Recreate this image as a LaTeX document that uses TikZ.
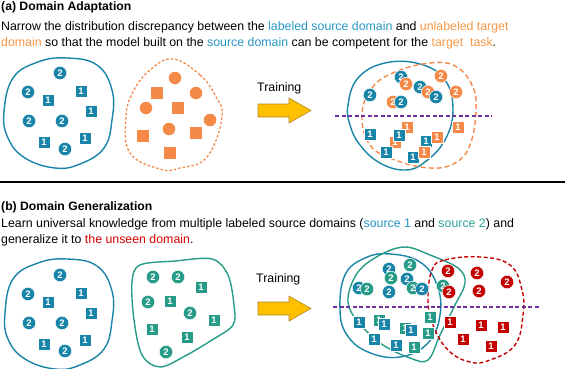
\documentclass[tikz,border=0pt]{standalone}
\usepackage{fontspec}
\setmainfont{Liberation Sans}
\definecolor{cB}{RGB}{24,133,168}
\definecolor{cO}{RGB}{245,138,72}
\definecolor{cT}{RGB}{38,155,135}
\definecolor{cR}{RGB}{196,0,0}
\definecolor{cP}{RGB}{112,48,160}
\definecolor{cY}{RGB}{255,192,0}
\definecolor{cYd}{RGB}{175,135,40}
\definecolor{tB}{RGB}{40,150,195}
\definecolor{tO}{RGB}{247,150,70}
\definecolor{tT}{RGB}{40,165,150}
\definecolor{tR}{RGB}{215,0,0}
\begin{document}
\begin{tikzpicture}[x=1pt,y=-1pt,
  num/.style={text=white,font=\fontsize{9.5}{9.5}\selectfont\bfseries,inner sep=0pt},
  dc/.style={num,circle,fill=#1,minimum size=13.5pt,draw=white,line width=0.5pt},
  sq/.style={num,rectangle,fill=#1,minimum size=12.5pt,draw=white,line width=0.5pt},
  blob/.style={draw=#1,line width=1.4pt},
  sep/.style={draw=cP,line width=1.5pt,dash pattern=on 4pt off 2.5pt},
  txt/.style={anchor=base west,inner sep=0pt,font=\fontsize{12.35}{14}\selectfont},
  ttl/.style={anchor=base west,inner sep=0pt,font=\fontsize{12.2}{14}\selectfont\bfseries},
  arr/.style={fill=cY,draw=cYd,line width=0.6pt}]
\path[use as bounding box] (0,0) rectangle (565,368);

% ---------- (a) texts
\node[ttl] (ta) at (1,10) {(a) Domain Adaptation};
\node[txt] (ta1) at (1,30.5) {Narrow the distribution discrepancy between the \textcolor{tB}{labeled source domain} and \textcolor{tO}{unlabeled target}};
\node[txt] (ta2) at (1,46.5) {\textcolor{tO}{domain} so that the model built on the \textcolor{tB}{source domain} can be competent for the \textcolor{tO}{target~~task}.};

% ---------- (a) left source blob
\draw[blob=cB] plot[smooth cycle,tension=0.7] coordinates {(4,112) (13,78) (38,62) (67,58) (97,65) (112,90) (112,120) (104,148) (80,164) (55,168) (25,158) (8,138)};
\foreach \x/\y [count=\i] in {60/73,28/92,29/121,62/121,65/149}
  \node[dc=cB] (aLc\i) at (\x,\y) {2};
\foreach \x/\y [count=\i] in {48/100,81/91,91/111,44/142,85/138}
  \node[sq=cB] (aLs\i) at (\x,\y) {1};

% ---------- (a) target blob
\draw[blob=cO,line width=1.3pt,dash pattern=on 2.5pt off 2pt] plot[smooth cycle,tension=0.7] coordinates {(173,59) (200,75) (215,95) (222,117) (207,157) (180,168) (160,169) (130,153) (126,117) (133,92) (150,70)};
\foreach \x/\y [count=\i] in {175/78,196/93,146/108,210/120,169/129}
  \node[circle,fill=cO,minimum size=12.5pt,inner sep=0pt] (aTc\i) at (\x,\y) {};
\foreach \x/\y [count=\i] in {157/93,178/108,143/136,196/133,170/153}
  \node[rectangle,fill=cO,minimum size=12pt,inner sep=0pt] (aTs\i) at (\x,\y) {};

% ---------- (a) training arrow
\node[txt] (trA) at (257,91) {Training};
\draw[arr] (258,104) -- (289,104) -- (289,98) -- (311,110.5) -- (289,123) -- (289,117) -- (258,117) -- cycle;

% ---------- (a) merged
\draw[blob=cB] plot[smooth cycle,tension=0.7] coordinates {(348,105) (358,78) (385,63) (420,64) (445,80) (453,110) (445,140) (425,162) (405,170) (380,163) (360,145) (350,125)};
\draw[blob=cO,dash pattern=on 5pt off 3pt] plot[smooth cycle,tension=0.7] coordinates {(362,115) (372,88) (395,72) (430,63) (455,66) (472,85) (476,110) (470,145) (455,163) (430,168) (395,160) (370,145)};
\coordinate (pa1) at (335,116);
\coordinate (pa2) at (492,116);
\draw[sep] (pa1) -- (pa2);
\foreach \c/\x/\y [count=\i] in {cB/401/77,cO/406/84,cB/370/95,cO/441/76,cO/456/92,cB/420/87,cO/428/92,cB/436/97,cO/393/102,cB/401/102}
  \node[dc=\c] (aRc\i) at (\x,\y) {2};
\foreach \c/\x/\y [count=\i] in {cO/407/127,cO/395/142,cB/399/135,cB/370/134,cB/386/152,cB/426/141,cO/437/137,cB/413/157,cO/424/152,cO/458/127}
  \node[sq=\c] (aRs\i) at (\x,\y) {1};

% ---------- separator
\coordinate (s1) at (0,182);
\coordinate (s2) at (565,182);
\draw[line width=2pt] (s1) -- (s2);

% ---------- (b) texts
\node[ttl] (tb) at (1,210) {(b) Domain Generalization};
\node[txt] (tb1) at (1,227) {Learn universal knowledge from multiple labeled source domains (\textcolor{tB}{source 1} and \textcolor{tT}{source 2}) and};
\node[txt] (tb2) at (1,243) {generalize it to \textcolor{tR}{the unseen domain}.};

% ---------- (b) source 1
\begin{scope}[yshift=-201pt]
\draw[blob=cB] plot[smooth cycle,tension=0.7] coordinates {(5,112) (13,78) (38,62) (67,58) (97,65) (112,90) (112,120) (104,148) (80,164) (55,168) (25,158) (8,138)};
\end{scope}
\foreach \x/\y [count=\i] in {60/275,28/294,29/323,62/323,65/351}
  \node[dc=cB] (bLc\i) at (\x,\y) {2};
\foreach \x/\y [count=\i] in {48/302,81/293,91/313,44/344,85/340}
  \node[sq=cB] (bLs\i) at (\x,\y) {1};

% ---------- (b) source 2
\draw[blob=cT] plot[smooth cycle,tension=0.55] coordinates {(132,282) (140,265) (175,261) (212,259) (228,275) (234,305) (233,325) (212,340) (185,356) (160,367) (142,355) (134,320)};
\foreach \x/\y [count=\i] in {153/277,178/277,148/302,190/313,166/352}
  \node[dc=cT] (bMc\i) at (\x,\y) {2};
\foreach \x/\y [count=\i] in {201/287,170/301,214/320,152/329,187/337}
  \node[sq=cT] (bMs\i) at (\x,\y) {1};

% ---------- (b) training arrow
\node[txt] (trB) at (256,282) {Training};
\draw[arr] (258,302) -- (289,302) -- (289,296) -- (311,308.5) -- (289,321) -- (289,315) -- (258,315) -- cycle;

% ---------- (b) merged
\draw[blob=cB] plot[smooth cycle,tension=0.7] coordinates {(340,310) (345,275) (365,258) (390,254) (420,262) (437,285) (440,315) (428,343) (400,357) (368,352) (347,335)};
\draw[blob=cT] plot[smooth cycle,tension=0.6] coordinates {(405,247) (430,255) (458,268) (465,283) (455,305) (440,335) (428,360) (410,358) (380,343) (355,318) (348,298) (358,272) (380,255)};
\draw[blob=cR,dash pattern=on 4pt off 2.5pt] plot[smooth cycle,tension=0.7] coordinates {(432,270) (445,260) (480,257) (510,265) (522,290) (523,315) (515,345) (490,360) (470,362) (448,350) (433,325) (428,300)};
\coordinate (pb1) at (333,307);
\coordinate (pb2) at (540,307);
\draw[sep] (pb1) -- (pb2);
\foreach \c/\x/\y [count=\i] in {cB/359/288,cT/367/289,cB/389/269,cT/391/278,cT/410/265,cB/407/279,cT/413/288,cB/422/289,cB/389/292,cT/443/286,cR/449/292,cR/448/271,cR/477/273,cR/507/282,cR/479/291}
  \node[dc=\c] (bRc\i) at (\x,\y) {2};
\foreach \c/\x/\y [count=\i] in {cB/359/322,cT/379/320,cB/384/324,cT/405/328,cB/411/330,cB/374/339,cB/396/345,cT/414/347,cT/430/317,cT/428/333,cR/450/322,cR/481/325,cR/503/327,cR/463/339,cR/491/346}
  \node[sq=\c] (bRs\i) at (\x,\y) {1};
\end{tikzpicture}
\end{document}
